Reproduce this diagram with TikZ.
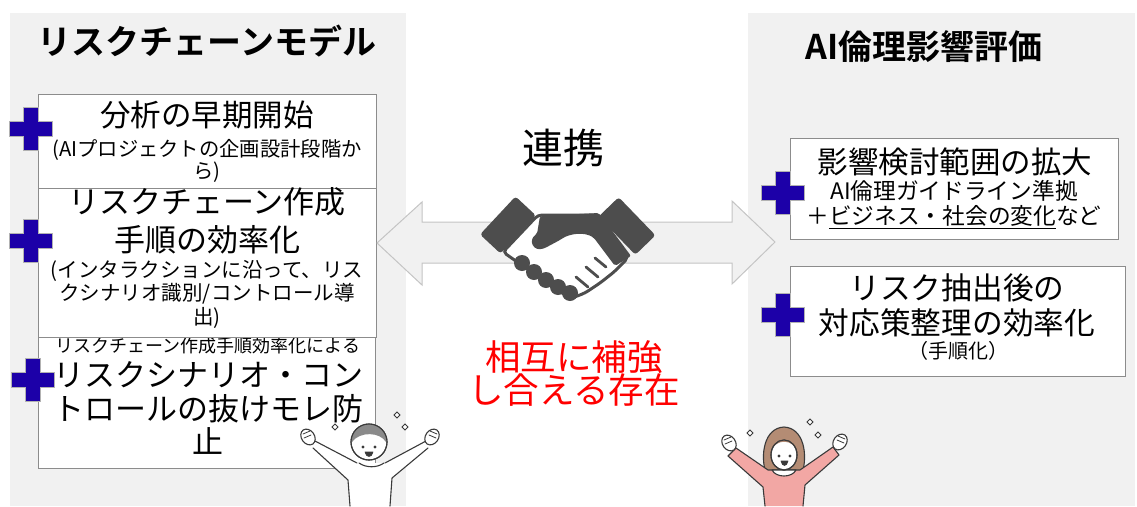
\documentclass[tikz,border=0pt]{standalone}
\usepackage{fontspec}
\setmainfont{Noto Sans CJK JP}
\newfontfamily\jpbold{Noto Sans CJK JP Bold}

\definecolor{panel}{HTML}{F1F1F1}
\definecolor{plusblue}{HTML}{1C00A8}
\definecolor{iconcolor}{HTML}{4D4D4D}
\definecolor{arrowline}{HTML}{C4C4C4}
\definecolor{boxline}{HTML}{8C8C8C}
\definecolor{figline}{HTML}{3A3A3A}
\definecolor{boyhair}{HTML}{8A8A8A}
\definecolor{girlhair}{HTML}{B48C74}
\definecolor{pinkshirt}{HTML}{F2A7A4}

\tikzset{
  panelbg/.style={fill=panel, draw=none},
  itembox/.style={draw=boxline, line width=0.9pt, fill=white, inner sep=0pt},
  txt/.style={inner sep=0pt, anchor=center, align=center, text=black},
  bluecross/.pic={
    \filldraw[fill=plusblue, draw=black!30, line width=0.6pt]
      (-21.5,-7.5) -- (-7.5,-7.5) -- (-7.5,-21.5) -- (7.5,-21.5) -- (7.5,-7.5)
      -- (21.5,-7.5) -- (21.5,7.5) -- (7.5,7.5) -- (7.5,21.5) -- (-7.5,21.5)
      -- (-7.5,7.5) -- (-21.5,7.5) -- cycle;
  },
  sparkle/.pic={
    \draw[figline, line width=0.8pt, fill=white] (0,-3) -- (3,0) -- (0,3) -- (-3,0) -- cycle;
  },
  fig/.style={draw=figline, line width=1.1pt, line join=round, line cap=round},
}

\begin{document}
\begin{tikzpicture}[x=1pt, y=-1pt]
\useasboundingbox (0,0) rectangle (1137,506);
\fill[white] (0,0) rectangle (1137,506);

% side panels
\fill[panelbg] (10,13) rectangle (406,506);
\fill[panelbg] (748,13) rectangle (1135,506);

% panel titles
\node[txt, font=\jpbold\fontsize{34}{36}\selectfont] (titleL) at (207,41) {リスクチェーンモデル};
\node[txt, font=\jpbold\fontsize{34}{36}\selectfont] (titleR) at (924,47) {AI倫理影響評価};

% left column: the third box lies under the second one
\node[itembox, minimum width=337pt, minimum height=138pt] (boxL3) at (207,399) {};
\node[txt, font=\fontsize{18}{18}\selectfont] (l3a) at (208,346) {リスクチェーン作成手順効率化による};
\node[itembox, minimum width=338pt, minimum height=149pt] (boxL2) at (207,262.5) {};
\node[itembox, minimum width=338pt, minimum height=94pt] (boxL1) at (207,141) {};

\node[txt, font=\fontsize{30.5}{32}\selectfont] (l1a) at (207,115) {分析の早期開始};
\node[txt, font=\fontsize{20.3}{20}\selectfont] (l1b) at (207,161) {(AIプロジェクトの企画設計段階か\\ら)};

\node[txt, font=\fontsize{31}{38}\selectfont] (l2a) at (207,221) {リスクチェーン作成\\手順の効率化};
\node[txt, font=\fontsize{20.5}{23.5}\selectfont] (l2b) at (207,294) {(インタラクションに沿って、リス\\クシナリオ識別/コントロール導\\出)};

\node[txt, font=\fontsize{31}{33.5}\selectfont] (l3b) at (208,408) {リスクシナリオ・コン\\トロールの抜けモレ防\\止};

% right column boxes
\node[itembox, minimum width=328pt, minimum height=101pt] (boxR1) at (954,188.5) {};
\node[itembox, minimum width=335pt, minimum height=110pt] (boxR2) at (957.5,321) {};

\node[txt, font=\fontsize{30.5}{32}\selectfont] (r1a) at (955,162) {影響検討範囲の拡大};
\node[txt, font=\fontsize{22.7}{25}\selectfont] (r1b) at (954,204.5) {AI倫理ガイドライン準拠\\＋\underline{ビジネス・社会の変化}など};

\node[txt, font=\fontsize{30.7}{35}\selectfont] (r2a) at (957,305.5) {リスク抽出後の\\対応策整理の効率化};
\node[txt, font=\fontsize{20}{20}\selectfont] (r2b) at (958,351) {（手順化）};

% blue crosses on the box edges
\pic at (31,129) {bluecross};
\pic at (31,241) {bluecross};
\pic at (33,380) {bluecross};
\pic at (783,193) {bluecross};
\pic at (783,315) {bluecross};

% double arrow linking the two panels
\coordinate (tipL) at (377,243);
\coordinate (tipR) at (775,242);
\filldraw[fill=panel, draw=arrowline, line width=1pt, line join=miter]
  (tipL) -- (422,202) -- (422,222) -- (732,222) -- (732,201) -- (tipR)
  -- (732,284) -- (732,263) -- (422,263) -- (422,285) -- cycle;

\node[txt, font=\fontsize{41}{42}\selectfont] (link) at (563,148) {連携};
\node[txt, font=\fontsize{35.5}{33}\selectfont, text=red] (mutual) at (574,373) {相互に補強\\し合える存在};

% handshake icon
\begin{scope}
  % white gripping hand
  \filldraw[fill=white, draw=iconcolor, line width=3pt, rounded corners=4pt]
    (503,252) -- (538,215) -- (598,215) -- (628,258) -- (614,272) -- (600,283)
    -- (585,293) -- (572,298) -- (560,292) -- cycle;
  % fingers of the white hand
  \draw[iconcolor, line width=2.8pt, line cap=round]
    (606,267) -- (595,258) (598,277) -- (586,267) (588,287) -- (576,277);
  % dark upper hand with thumb
  \fill[iconcolor, rounded corners=2pt]
    (540,216) -- (599,213) -- (631,256) -- (615,266) -- (594,238)
    .. controls (585,232) and (570,233) .. (560,240) -- (545,248)
    .. controls (533,252) and (528,240) .. (537,234) -- cycle;
  % knuckles of the lower hand
  \foreach \kx/\ky in {522/263, 534/272, 546/280, 558/287, 570/293}
    \fill[iconcolor] (\kx,\ky) circle (8);
  % sleeve cuffs
  \fill[iconcolor, rounded corners=3pt, rotate around={47:(508,225)}]
    (482,211) rectangle (534,239);
  \fill[iconcolor, rounded corners=3pt, rotate around={-46:(627,226)}]
    (600.5,212) rectangle (653.5,240);
\end{scope}

% boy raising both hands
\begin{scope}
  \fill[white] (350,506) -- (348,480) -- (313,448) -- (315,441) -- (357,463)
    -- (385,463) -- (426,441) -- (428,448) -- (392,478) -- (390,506) -- cycle;
  \draw[fig] (350,506) -- (348,480) -- (313,448);
  \draw[fig] (315,441) -- (357,463);
  \draw[fig] (385,463) -- (426,441);
  \draw[fig] (428,448) -- (392,478) -- (390,506);
  \draw[fig] (359,463) .. controls (366,468) and (377,468) .. (384,463);
  % hands
  \filldraw[fig, fill=white, rotate around={35:(308,437)}] (308,437) ellipse (6.5 and 8.5);
  \draw[fig, line width=0.8pt] (303,434) -- (310,431) (304,438) -- (311,435);
  \filldraw[fig, fill=white, rotate around={-35:(432,437)}] (432,437) ellipse (6.5 and 8.5);
  \draw[fig, line width=0.8pt] (437,434) -- (430,431) (436,438) -- (429,435);
  % head
  \filldraw[fig, fill=white] (369,442) circle (18);
  \begin{scope}
    \clip (345,415) -- (395,415) -- (395,442) -- (386,442)
      .. controls (380,432) and (360,431) .. (352,442) -- (345,442) -- cycle;
    \fill[boyhair] (369,442) circle (18);
  \end{scope}
  \draw[fig] (369,442) circle (18);
  \fill[figline] (363,447) circle (1.7) (375,447) circle (1.7);
  \filldraw[fig, fill=figline, line width=0.6pt] (365,452) .. controls (366,458) and (372,458) .. (373,452) -- cycle;
  \pic at (335,427) {sparkle};
  \pic at (397,415) {sparkle};
  \pic at (405,427) {sparkle};
\end{scope}

% girl raising both hands
\begin{scope}
  \filldraw[fig, fill=girlhair] (766,474) .. controls (760,455) and (764,428) .. (784,427)
    .. controls (804,428) and (808,455) .. (802,474) -- cycle;
  \filldraw[fig, fill=pinkshirt] (765,506) -- (763,487) -- (728,456) -- (736,448)
    -- (768,470) -- (800,470) -- (833,447) -- (839,455) -- (805,485) -- (803,506);
  \filldraw[fig, fill=white] (772,470) .. controls (776,478) and (792,478) .. (796,470) -- cycle;
  \filldraw[fig, fill=white, rotate around={35:(729,443)}] (729,443) ellipse (6.5 and 8.5);
  \draw[fig, line width=0.8pt] (724,440) -- (731,437) (725,444) -- (732,441);
  \filldraw[fig, fill=white, rotate around={-35:(840,442)}] (840,442) ellipse (6.5 and 8.5);
  \draw[fig, line width=0.8pt] (845,439) -- (838,436) (844,443) -- (837,440);
  \filldraw[fig, fill=white] (784,455) ellipse (13 and 15);
  \begin{scope}
    \clip (760,420) -- (808,420) -- (808,450) -- (797,450)
      .. controls (792,440) and (778,438) .. (771,450) -- (760,450) -- cycle;
    \fill[girlhair] (784,455) ellipse (13 and 15);
  \end{scope}
  \draw[fig] (784,455) ellipse (13 and 15);
  \fill[figline] (779,456) circle (1.6) (790,456) circle (1.6);
  \filldraw[fig, fill=figline, line width=0.6pt] (781,461) .. controls (782,467) and (787,467) .. (788,461) -- cycle;
  \pic at (750,433) {sparkle};
  \pic at (810,422) {sparkle};
  \pic at (818,435) {sparkle};
\end{scope}
\end{tikzpicture}
\end{document}
